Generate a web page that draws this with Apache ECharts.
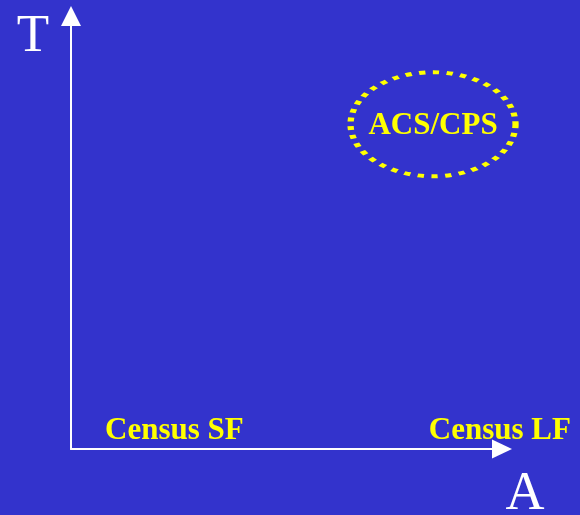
<!DOCTYPE html>
<html>
<head>
<meta charset="utf-8">
<script src="https://cdn.jsdelivr.net/npm/echarts@6/dist/echarts.min.js"></script>
<style>html,body{margin:0;padding:0;background:#3333CC;}#c{width:580px;height:515px;}</style>
</head>
<body>
<div id="c"></div>
<script>
// Data
const categories = ['Census SF', 'Census LF', 'ACS/CPS'];
const aValues = [24, 99.5, 84];   // horizontal axis "A"
const tValues = [4.2, 4.2, 75];   // vertical axis "T"
const circled = ['ACS/CPS'];
const axisNames = { x: 'A', y: 'T' };

const serif = "'Liberation Serif', 'Times New Roman', serif";
const yellow = '#FFFF00';

const points = categories.map((name, i) => {
  const item = { name: name, value: [aValues[i], tValues[i]] };
  if (circled.indexOf(name) >= 0) {
    item.symbolSize = [165, 104];
    item.itemStyle = { color: 'transparent', borderColor: yellow, borderWidth: 5, borderType: [5, 6], opacity: 1 };
    item.label = { offset: [0, 2] };
  } else {
    item.symbolSize = 1;
    item.itemStyle = { color: 'transparent', borderWidth: 0, opacity: 1 };
  }
  return item;
});

const chart = echarts.init(document.getElementById('c'));
chart.setOption({
  backgroundColor: '#3333CC',
  animation: false,
  grid: { left: 71, right: 78, top: 16, bottom: 66, containLabel: false, outerBoundsMode: 'none' },
  xAxis: {
    type: 'value', min: 0, max: 100,
    name: axisNames.x, nameLocation: 'end', nameGap: 23,
    nameTextStyle: { color: '#fff', fontFamily: serif, fontSize: 54, align: 'center', verticalAlign: 'top', lineHeight: 92 },
    axisLine: { show: true, lineStyle: { color: '#fff', width: 2 }, symbol: ['none', 'triangle'], symbolSize: [19, 20] },
    axisTick: { show: false }, axisLabel: { show: false }, splitLine: { show: false }
  },
  yAxis: {
    type: 'value', min: 0, max: 100,
    name: axisNames.y, nameLocation: 'end', nameGap: -21,
    nameTextStyle: { color: '#fff', fontFamily: serif, fontSize: 53, align: 'center', verticalAlign: 'middle', padding: [0, 76, 0, 0] },
    axisLine: { show: true, lineStyle: { color: '#fff', width: 2 }, symbol: ['none', 'triangle'], symbolSize: [20, 20] },
    axisTick: { show: false }, axisLabel: { show: false }, splitLine: { show: false }
  },
  series: [{
    type: 'scatter',
    clip: false,
    data: points,
    itemStyle: { opacity: 1 },
    label: {
      show: true, position: 'inside', formatter: '{b}', opacity: 1,
      color: yellow, fontFamily: serif, fontWeight: 'bold', fontSize: 31,
      textBorderWidth: 0
    },
    emphasis: { disabled: true }
  }]
});
</script>
</body>
</html>
